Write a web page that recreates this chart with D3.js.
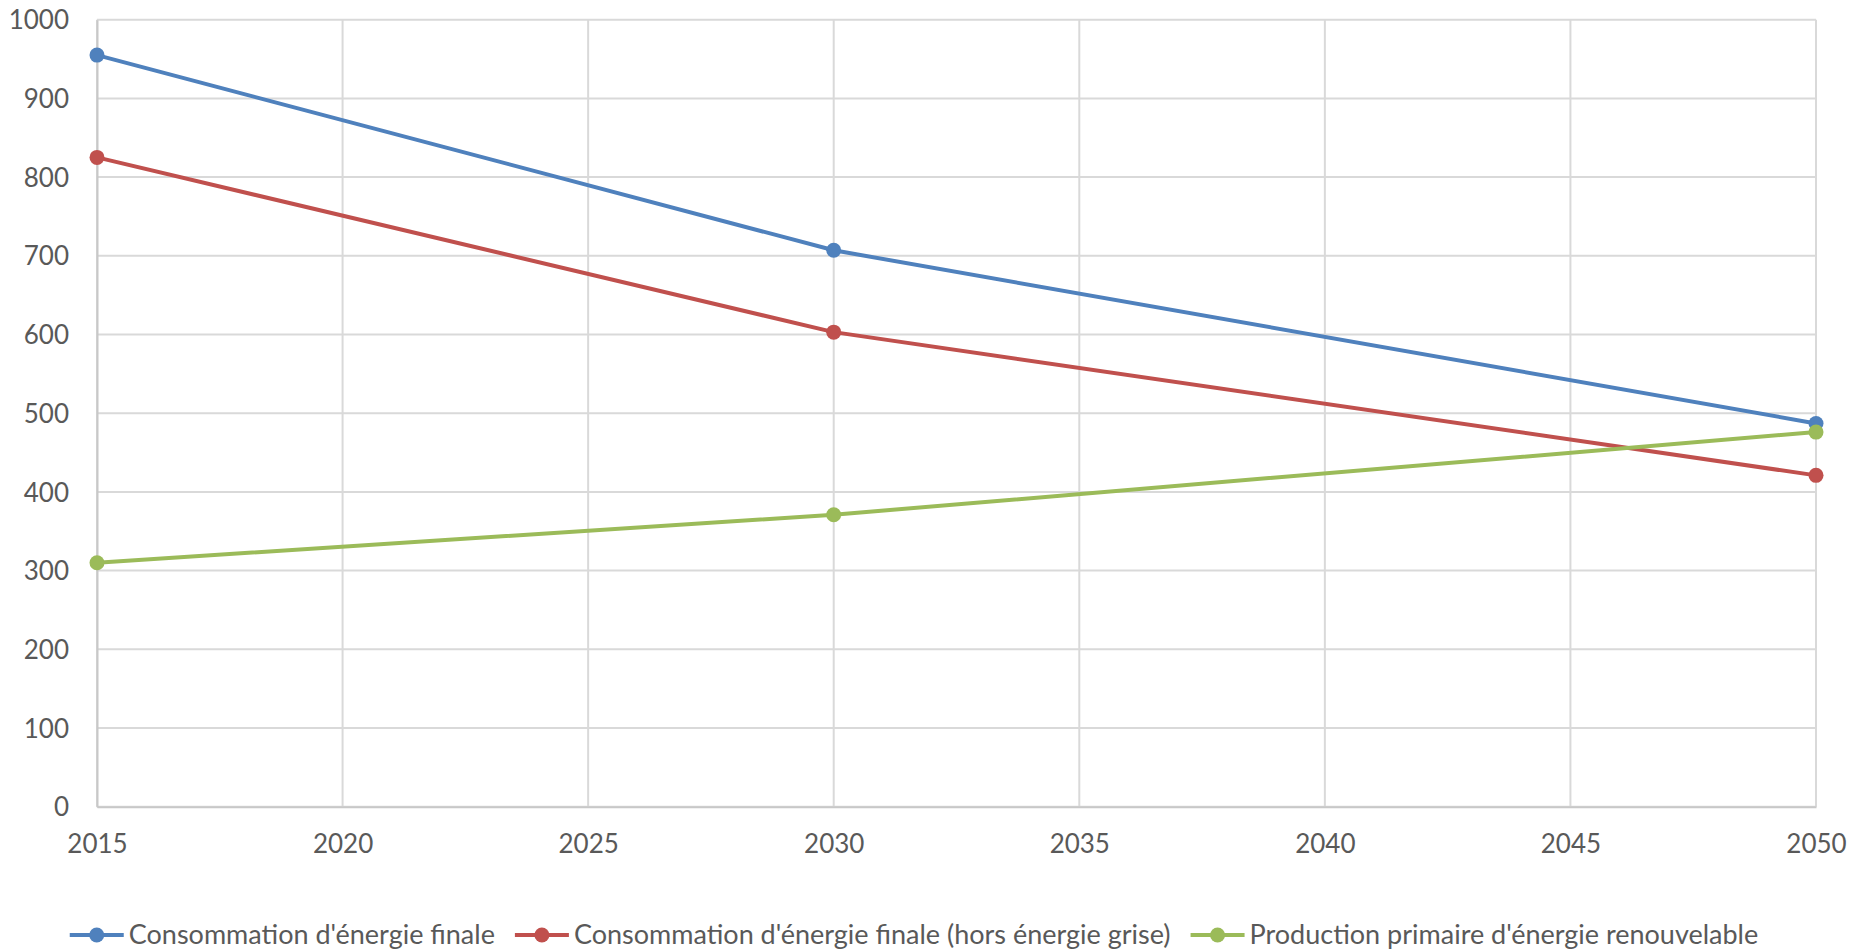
<!DOCTYPE html>
<html>
<head>
<meta charset="utf-8">
<script src="https://cdn.jsdelivr.net/npm/d3@7"></script>
<style>
  html, body { margin: 0; padding: 0; background: #ffffff; }
  svg { display: block; }
  text { font-family: Lato, "Open Sans", sans-serif; fill: #595959; }
</style>
</head>
<body>
<svg id="chart" width="1852" height="949"></svg>
<script>
// ---- data ----
const years = [2015, 2030, 2050];
const consoFinale = [955, 707, 487];
const consoHorsGrise = [825, 603, 421];
const productionRenouvelable = [310, 371, 476];
const seriesNames = [
  "Consommation d'énergie finale",
  "Consommation d'énergie finale (hors énergie grise)",
  "Production primaire d'énergie renouvelable"
];
const xTicks = [2015, 2020, 2025, 2030, 2035, 2040, 2045, 2050];
const yTicks = [0, 100, 200, 300, 400, 500, 600, 700, 800, 900, 1000];
const colors = ["#4F81BD", "#C0504D", "#9BBB59"];

// ---- layout ----
const plot = { left: 97, right: 1816, top: 19.7, bottom: 806.7 };

const svg = d3.select("#chart");
const x = d3.scaleLinear().domain([2015, 2050]).range([plot.left, plot.right]);
const y = d3.scaleLinear().domain([0, 1000]).range([plot.bottom, plot.top]);

// gridlines
const grid = svg.append("g");
grid.selectAll("line.h").data(yTicks).join("line")
  .attr("x1", plot.left).attr("x2", plot.right)
  .attr("y1", d => y(d)).attr("y2", d => y(d))
  .attr("stroke", "#d9d9d9").attr("stroke-width", 2);
grid.selectAll("line.v").data(xTicks).join("line")
  .attr("y1", plot.top).attr("y2", plot.bottom)
  .attr("x1", d => x(d)).attr("x2", d => x(d))
  .attr("stroke", "#d9d9d9").attr("stroke-width", 2);

// axes
const yAxis = d3.axisLeft(y).tickValues(yTicks).tickFormat(d3.format("d")).tickSize(0).tickPadding(28);
const gy = svg.append("g").attr("transform", `translate(${plot.left},0)`).call(yAxis);
gy.select(".domain").attr("stroke", "#c8c8c8").attr("stroke-width", 2);
gy.selectAll("text").style("font-size", "26px").attr("fill", "#595959").attr("dy", "0.35em");

const xAxis = d3.axisBottom(x).tickValues(xTicks).tickFormat(d3.format("d")).tickSize(0).tickPadding(37);
const gx = svg.append("g").attr("transform", `translate(0,${plot.bottom})`).call(xAxis);
gx.select(".domain").attr("stroke", "#c8c8c8").attr("stroke-width", 2);
gx.selectAll("text").style("font-size", "26px").attr("fill", "#595959").attr("dy", "0.35em");

// series
const allSeries = [consoFinale, consoHorsGrise, productionRenouvelable];
const line = d3.line().x(d => x(d[0])).y(d => y(d[1]));
allSeries.forEach((vals, i) => {
  const pts = years.map((yr, j) => [yr, vals[j]]);
  svg.append("path").datum(pts)
    .attr("fill", "none").attr("stroke", colors[i]).attr("stroke-width", 4)
    .attr("stroke-linejoin", "round").attr("d", line);
});
allSeries.forEach((vals, i) => {
  const pts = years.map((yr, j) => [yr, vals[j]]);
  svg.append("g").selectAll("circle").data(pts).join("circle")
    .attr("cx", d => x(d[0])).attr("cy", d => y(d[1])).attr("r", 7.5)
    .attr("fill", colors[i]);
});

// legend
const legend = svg.append("g");
const legendY = 935;
const symW = 54, symGap = 5, itemGap = 20;
const items = seriesNames.map((name, i) => {
  const g = legend.append("g");
  g.append("line").attr("x1", 0).attr("x2", symW).attr("y1", 0).attr("y2", 0)
    .attr("stroke", colors[i]).attr("stroke-width", 4);
  g.append("circle").attr("cx", symW / 2).attr("cy", 0).attr("r", 7.5).attr("fill", colors[i]);
  const t = g.append("text").attr("x", symW + symGap).attr("y", 0).attr("dy", "0.35em")
    .style("font-size", "27px").text(name);
  const w = symW + symGap + t.node().getComputedTextLength();
  return { g, w };
});
const total = d3.sum(items, d => d.w) + itemGap * (items.length - 1);
let cx = 914 - total / 2;
items.forEach(it => {
  it.g.attr("transform", `translate(${cx},${legendY})`);
  cx += it.w + itemGap;
});
</script>
</body>
</html>
